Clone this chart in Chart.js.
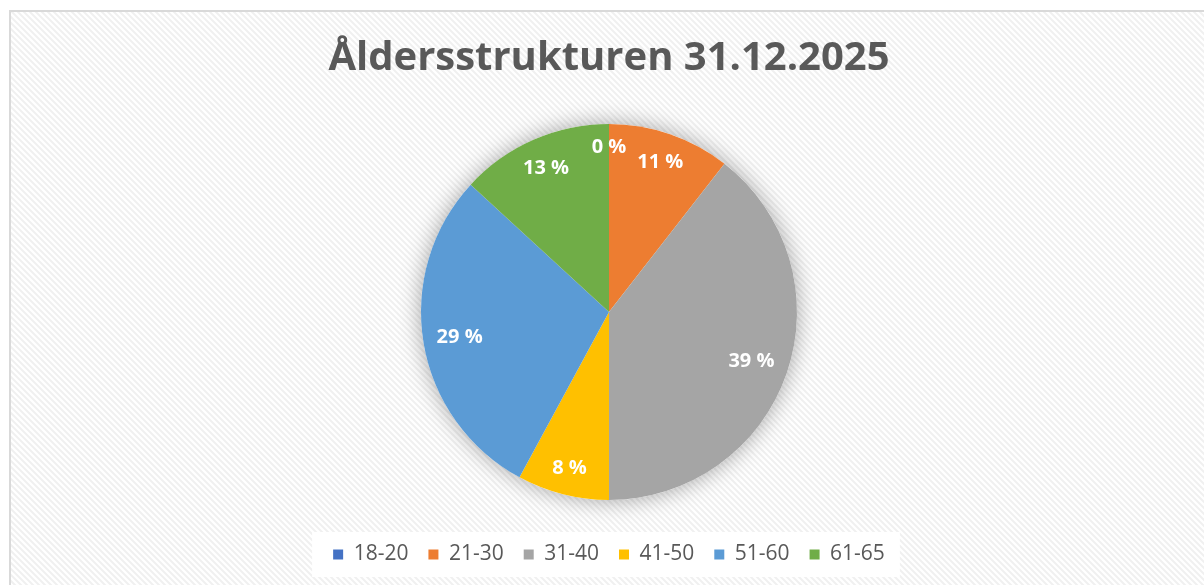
<!DOCTYPE html>
<html>
<head>
<meta charset="utf-8">
<script src="https://cdn.jsdelivr.net/npm/chart.js@4"></script>
<style>
  html, body { margin: 0; padding: 0; background: #fff; }
  #wrap { width: 1204px; height: 585px; }
</style>
</head>
<body>
<div id="wrap"><canvas id="chart" width="1204" height="585"></canvas></div>
<script>
// age groups and number of employees in each
var ageGroups = ['18-20', '21-30', '31-40', '41-50', '51-60', '61-65'];
var headcount = [0, 8, 30, 6, 22, 10];
var sliceColors = ['#4472C4', '#ED7D31', '#A5A5A5', '#FFC000', '#5B9BD5', '#70AD47'];
var chartTitle = 'Åldersstrukturen 31.12.2025';

var FONT = '"Open Sans", "Liberation Sans", sans-serif';

// diagonal hatch used for the chart background
function makeHatch(ctx) {
  var c = document.createElement('canvas');
  c.width = 6; c.height = 6;
  var p = c.getContext('2d');
  p.fillStyle = '#ffffff';
  p.fillRect(0, 0, 6, 6);
  p.strokeStyle = '#f0f0f0';
  p.lineWidth = 2;
  p.beginPath();
  p.moveTo(-3, -3); p.lineTo(9, 9);
  p.moveTo(-3, 3); p.lineTo(3, 9);
  p.moveTo(3, -3); p.lineTo(9, 3);
  p.stroke();
  return ctx.createPattern(c, 'repeat');
}

var backgroundPlugin = {
  id: 'bg',
  beforeDraw: function (chart) {
    var ctx = chart.ctx;
    ctx.save();
    ctx.fillStyle = '#ffffff';
    ctx.fillRect(0, 0, chart.width, chart.height);
    ctx.fillStyle = makeHatch(ctx);
    ctx.fillRect(10, 11, chart.width, chart.height);
    ctx.strokeStyle = '#d9d9d9';
    ctx.lineWidth = 2;
    ctx.strokeRect(10, 11, chart.width + 10, chart.height + 10);

    // white box behind legend
    var boxes = chart.legend.legendHitBoxes;
    if (boxes && boxes.length) {
      var first = boxes[0], last = boxes[boxes.length - 1];
      ctx.fillStyle = '#ffffff';
      ctx.fillRect(first.left - 21, first.top - 12, last.left + last.width - first.left + 36, first.height + 24);
    }
    ctx.restore();
  },
  beforeDatasetsDraw: function (chart) {
    // soft shadow under the pie
    var arc = chart.getDatasetMeta(0).data[0];
    if (!arc) return;
    var ctx = chart.ctx;
    ctx.save();
    ctx.shadowColor = 'rgba(0,0,0,0.35)';
    ctx.shadowBlur = 22;
    ctx.fillStyle = '#ffffff';
    ctx.beginPath();
    ctx.arc(arc.x, arc.y, arc.outerRadius, 0, Math.PI * 2);
    ctx.fill();
    ctx.restore();
  }
};

var labelPlugin = {
  id: 'sliceLabels',
  afterDatasetsDraw: function (chart) {
    var ctx = chart.ctx;
    var meta = chart.getDatasetMeta(0);
    var total = headcount.reduce(function (a, b) { return a + b; }, 0);
    ctx.save();
    ctx.font = 'bold 20px ' + FONT;
    ctx.fillStyle = '#ffffff';
    ctx.textAlign = 'center';
    ctx.textBaseline = 'middle';
    meta.data.forEach(function (arc, i) {
      var text = Math.round(headcount[i] / total * 100) + ' %';
      var mid = (arc.startAngle + arc.endAngle) / 2;
      var hw = ctx.measureText(text).width / 2;
      var hh = 11;
      var a = mid + Math.PI / 2;
      var d = arc.outerRadius - 12 - (hw * Math.abs(Math.sin(a)) + hh * Math.abs(Math.cos(a)));
      ctx.fillText(text, arc.x + Math.cos(mid) * d, arc.y + Math.sin(mid) * d);
    });
    ctx.restore();
  }
};

new Chart(document.getElementById('chart').getContext('2d'), {
  type: 'pie',
  data: {
    labels: ageGroups,
    datasets: [{
      data: headcount,
      backgroundColor: sliceColors,
      borderWidth: 0,
      radius: 188
    }]
  },
  options: {
    responsive: false,
    animation: false,
    layout: { padding: { left: 14, right: 0, top: 35, bottom: 10 } },
    plugins: {
      title: {
        display: true,
        text: chartTitle,
        color: '#595959',
        font: { family: FONT, size: 40, weight: 'bold' },
        padding: { top: 0, bottom: 17 }
      },
      legend: {
        position: 'bottom',
        labels: {
          color: '#595959',
          font: { family: FONT, size: 21 },
          boxWidth: 10,
          boxHeight: 10,
          padding: 20
        }
      },
      tooltip: { enabled: false }
    }
  },
  plugins: [backgroundPlugin, labelPlugin]
});
</script>
</body>
</html>
